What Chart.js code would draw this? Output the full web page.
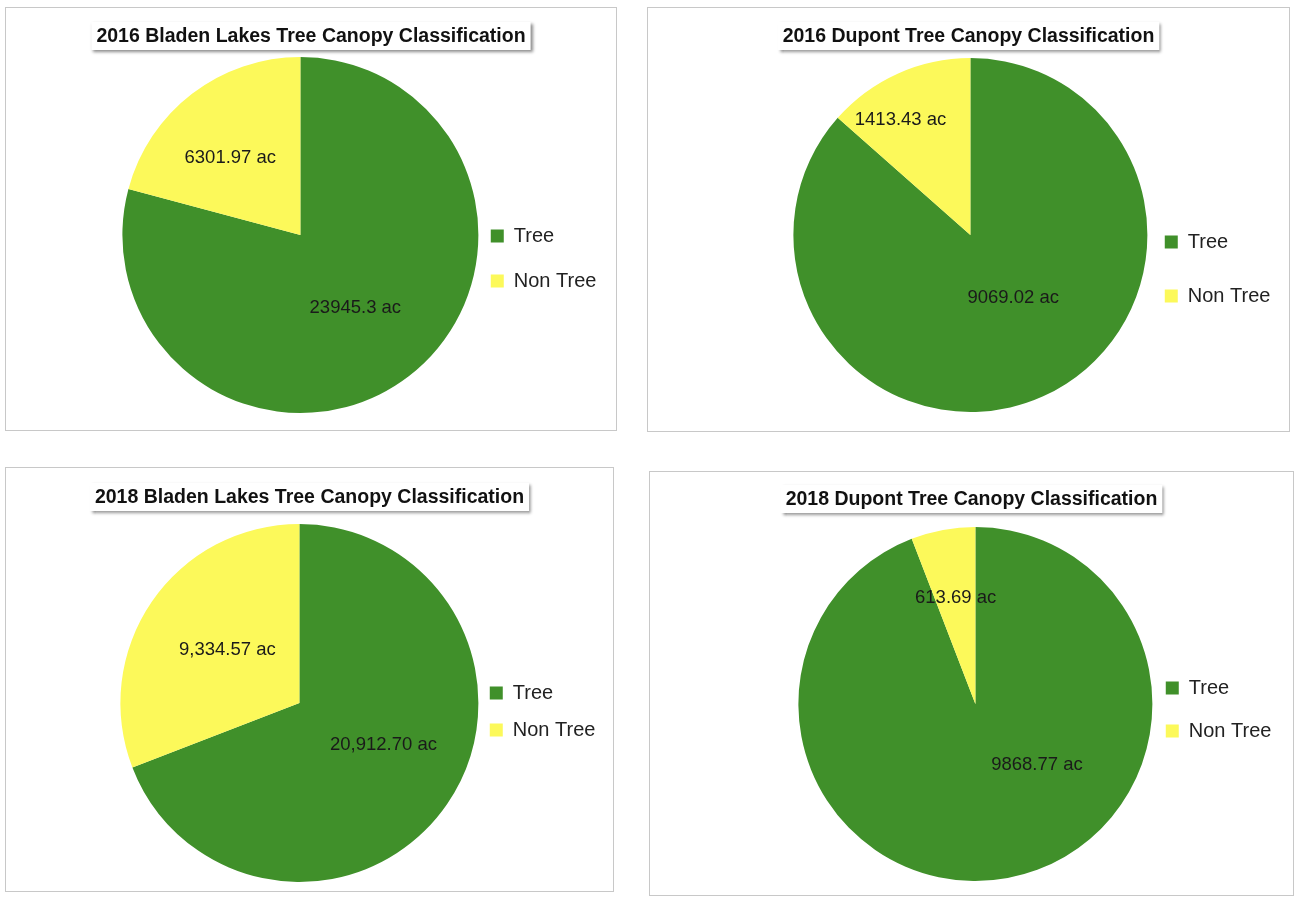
<!DOCTYPE html>
<html>
<head>
<meta charset="utf-8">
<script src="https://cdn.jsdelivr.net/npm/chart.js@4.4.1/dist/chart.umd.min.js"></script>
<style>
html, body { margin: 0; padding: 0; background: #fff; }
body { width: 1300px; height: 904px; position: relative; overflow: hidden; }
.panel { position: absolute; border: 1px solid #c8c8c8; box-sizing: border-box; background: #fff; }
.panel canvas { display: block; }
</style>
</head>
<body>
<div class="panel" style="left:5px;top:7px;width:612px;height:424px"><canvas id="c0" width="610" height="422"></canvas></div>
<div class="panel" style="left:647px;top:7px;width:643px;height:425px"><canvas id="c1" width="641" height="423"></canvas></div>
<div class="panel" style="left:5px;top:467px;width:609px;height:425px"><canvas id="c2" width="607" height="423"></canvas></div>
<div class="panel" style="left:649px;top:471px;width:645px;height:425px"><canvas id="c3" width="643" height="423"></canvas></div>
<script>
const categories = ['Tree', 'Non Tree'];

const titles = [
    '2016 Bladen Lakes Tree Canopy Classification',
    '2016 Dupont Tree Canopy Classification',
    '2018 Bladen Lakes Tree Canopy Classification',
    '2018 Dupont Tree Canopy Classification',
];

// acres, [tree, non tree]
const bladen2016 = [23945.3, 6301.97];
const dupont2016 = [9069.02, 1413.43];
const bladen2018 = [20912.70, 9334.57];
const dupont2018 = [9868.77, 613.69];

// labels as printed on the slices
const bladen2016Labels = ['23945.3 ac', '6301.97 ac'];
const dupont2016Labels = ['9069.02 ac', '1413.43 ac'];
const bladen2018Labels = ['20,912.70 ac', '9,334.57 ac'];
const dupont2018Labels = ['9868.77 ac', '613.69 ac'];

const sliceColors = ['#40902a', '#fcf95a'];
const fontFamily = '"Liberation Sans", Arial, sans-serif';

// title box with a small drop shadow, centred on the panel
const titleBox = {
    id: 'titleBox',
    afterDraw(chart, args, opts) {
        const ctx = chart.ctx;
        ctx.save();
        ctx.font = 'bold 19.5px ' + fontFamily;
        const w = ctx.measureText(opts.text).width;
        const cx = chart.width / 2;
        ctx.shadowColor = 'rgba(0,0,0,0.45)';
        ctx.shadowBlur = 3;
        ctx.shadowOffsetX = 2;
        ctx.shadowOffsetY = 2;
        ctx.fillStyle = '#fff';
        ctx.fillRect(cx - w / 2 - 5, opts.baseline - 20, w + 10, 28);
        ctx.shadowColor = 'transparent';
        ctx.fillStyle = '#111';
        ctx.textAlign = 'center';
        ctx.textBaseline = 'alphabetic';
        ctx.fillText(opts.text, cx, opts.baseline);
        ctx.restore();
    }
};

// value labels inside each slice
const sliceLabels = {
    id: 'sliceLabels',
    afterDatasetsDraw(chart, args, opts) {
        const meta = chart.getDatasetMeta(0);
        const ctx = chart.ctx;
        ctx.save();
        ctx.font = '18.5px ' + fontFamily;
        ctx.fillStyle = '#1a1a1a';
        ctx.textAlign = 'center';
        ctx.textBaseline = 'middle';
        meta.data.forEach((arc, i) => {
            const p = arc.getProps(['x', 'y', 'startAngle', 'endAngle', 'outerRadius'], true);
            const a = (p.startAngle + p.endAngle) / 2 + (opts.shift[i] || 0) * Math.PI / 180;
            const r = p.outerRadius * opts.dist[i];
            ctx.fillText(opts.text[i], p.x + Math.cos(a) * r, p.y + Math.sin(a) * r);
        });
        ctx.restore();
    }
};

function makePie(id, title, values, labels, s) {
    return new Chart(document.getElementById(id), {
        type: 'pie',
        data: {
            labels: categories,
            datasets: [{
                data: values,
                backgroundColor: sliceColors,
                borderWidth: 0,
                radius: s.radius,
            }]
        },
        options: {
            responsive: false,
            animation: false,
            layout: { padding: s.padding },
            plugins: {
                legend: {
                    position: 'right',
                    labels: {
                        boxWidth: 13,
                        boxHeight: 13,
                        padding: s.legendGap,
                        color: '#222',
                        font: { family: fontFamily, size: 20 },
                    },
                    title: {
                        display: true,
                        text: ' ',
                        font: { size: 10, lineHeight: 1 },
                        padding: { top: s.legendShift, bottom: 0 },
                    },
                },
                tooltip: { enabled: false },
                titleBox: { text: title, baseline: s.titleBaseline },
                sliceLabels: { text: labels, dist: s.dist, shift: s.shift },
            },
        },
        plugins: [titleBox, sliceLabels],
    });
}

makePie('c0', titles[0], bladen2016, bladen2016Labels, {
    radius: 178, padding: { left: 129, right: 9.6, top: 49, bottom: 17 },
    legendGap: 25, legendShift: 37, titleBaseline: 34,
    dist: [0.513, 0.585], shift: [0.5, -4.8],
});
makePie('c1', titles[1], dupont2016, dupont2016Labels, {
    radius: 177, padding: { left: 162, right: 8.6, top: 50, bottom: 19 },
    legendGap: 34, legendShift: 58, titleBaseline: 34,
    dist: [0.43, 0.76], shift: [-10, -7],
});
makePie('c2', titles[2], bladen2018, bladen2018Labels, {
    radius: 179, padding: { left: 120, right: 7.6, top: 56, bottom: 9 },
    legendGap: 17, legendShift: 7, titleBaseline: 35,
    dist: [0.525, 0.5], shift: [-8, 2],
});
makePie('c3', titles[3], dupont2018, dupont2018Labels, {
    radius: 177, padding: { left: 158, right: 11.6, top: 55, bottom: 14 },
    legendGap: 23, legendShift: 1, titleBaseline: 33,
    dist: [0.49, 0.61], shift: [-34.7, 0],
});
</script>
</body>
</html>
